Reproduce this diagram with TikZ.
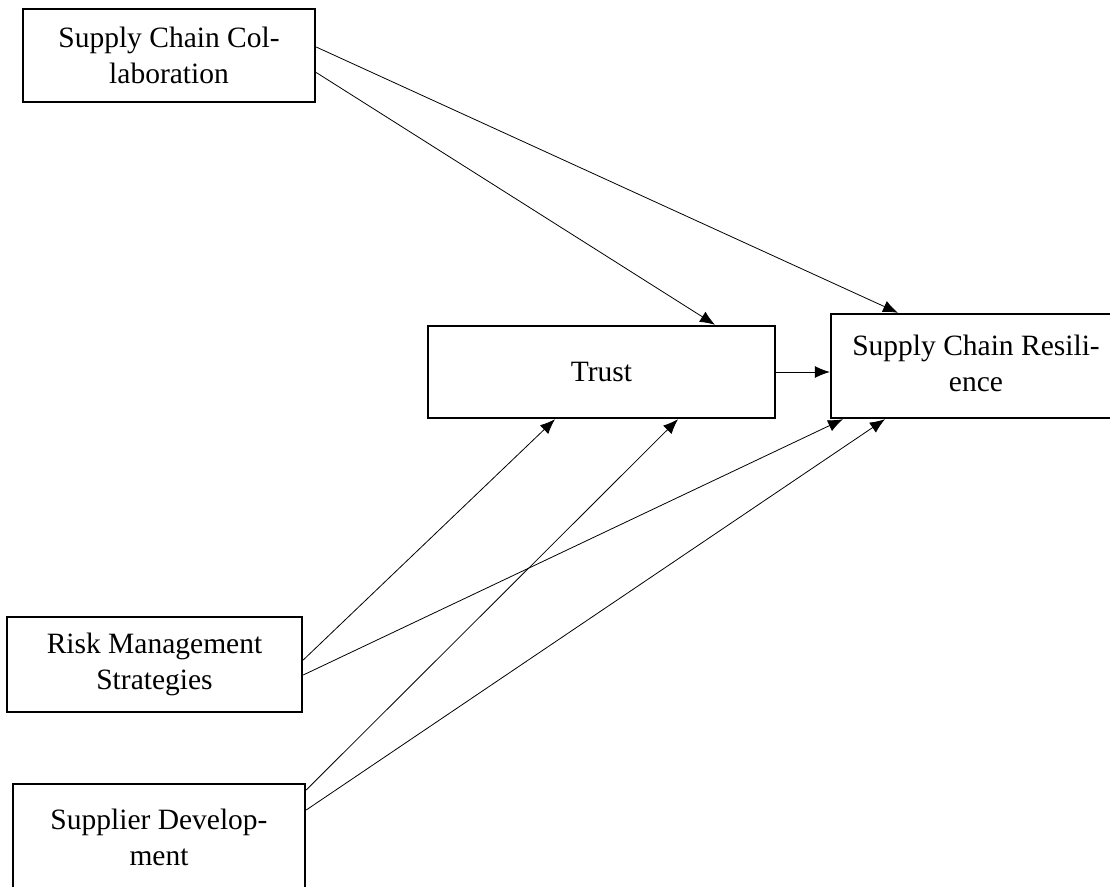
\documentclass[tikz,border=0pt]{standalone}
\usepackage{fontspec}
\setmainfont{Liberation Serif}
\usepackage{tikz}
\usetikzlibrary{arrows.meta}

\begin{document}
\begin{tikzpicture}[x=1pt,y=-1pt,->,>={Latex[length=15pt,width=12pt]},line width=0.8pt,main node/.style={rectangle,draw,line width=2.4pt,align=center,font=\fontsize{29.5}{36}\selectfont, inner sep=0pt}]

  \useasboundingbox (0,0) rectangle (1110,886);
  \clip (0,0) rectangle (1110,886);

  \node[main node, minimum width=292pt, minimum height=93pt] (SCC) at (169,55.5) {Supply Chain Col-\\laboration};
  \node[main node, minimum width=347pt, minimum height=92pt] (T) at (601.5,372) {Trust};
  % box runs off the right edge of the page
  \node[main node, minimum width=380pt, minimum height=104pt] (SCR) at (1021,366) {\begin{tabular}{@{}c@{}}Supply Chain Resili-\\ence\end{tabular}\hspace*{90pt}};
  \node[main node, minimum width=295pt, minimum height=95pt] (RMS) at (154.5,664.5) {Risk Management\\Strategies};
  \node[main node, minimum width=292pt, minimum height=106pt] (SD) at (159,837) {Supplier Develop-\\ment};

  \path
       ([yshift=8.5pt]SCC.east) edge ([xshift=-123pt]SCR.north)
       ([yshift=-17pt]SCC.east) edge ([xshift=113.5pt]T.north)
       (T.east) edge (T.east -| SCR.west)
       ([yshift=4.5pt]RMS.east) edge ([xshift=-46.5pt]T.south)
       ([yshift=-10.5pt]RMS.east) edge ([xshift=-178pt]SCR.south)
       ([yshift=47pt]SD.east) edge ([xshift=76.5pt]T.south)
       ([yshift=27pt]SD.east) edge ([xshift=-136pt]SCR.south);
\end{tikzpicture}
\end{document}
